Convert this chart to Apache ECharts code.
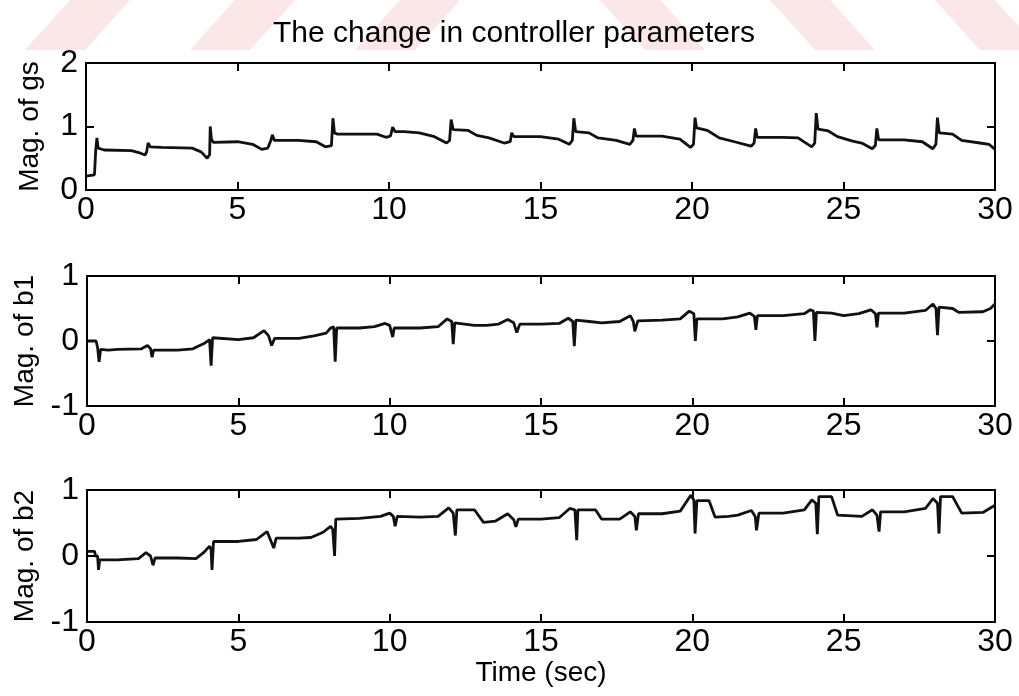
<!DOCTYPE html>
<html>
<head>
<meta charset="utf-8">
<script src="https://cdn.jsdelivr.net/npm/echarts@6/dist/echarts.min.js"></script>
<style>
  html, body { margin: 0; padding: 0; background: #fff; }
  #main { width: 1019px; height: 696px; }
</style>
</head>
<body>
<div id="main"></div>
<script>
// data: [time (sec), magnitude]
var gsPoints = [
  [0,0.22],[0.28,0.24],[0.32,0.62],[0.36,0.82],[0.4,0.66],[0.6,0.63],[1.5,0.62],[1.8,0.58],[1.95,0.55],
  [2.0,0.6],[2.05,0.74],[2.12,0.68],[2.5,0.67],[3.5,0.66],[3.8,0.6],[4.0,0.5],[4.08,0.56],[4.1,1.0],
  [4.14,0.8],[4.2,0.75],[5.0,0.76],[5.5,0.72],[5.8,0.64],[6.0,0.66],[6.1,0.78],[6.15,0.87],[6.22,0.78],
  [7.0,0.78],[7.6,0.76],[7.9,0.68],[8.1,0.7],[8.15,1.13],[8.2,0.9],[8.3,0.88],[9.6,0.88],[9.9,0.83],
  [10.05,0.85],[10.12,0.99],[10.2,0.92],[10.5,0.92],[11.0,0.9],[11.5,0.84],[11.9,0.74],[12.0,0.78],
  [12.05,1.11],[12.12,0.95],[12.6,0.94],[12.9,0.86],[13.3,0.82],[13.8,0.74],[14.0,0.76],[14.05,0.9],
  [14.12,0.84],[15.0,0.84],[15.6,0.8],[15.95,0.72],[16.05,0.78],[16.1,1.13],[16.16,0.92],[16.6,0.9],
  [16.9,0.82],[17.5,0.78],[17.95,0.72],[18.05,0.78],[18.1,0.97],[18.15,0.85],[19.0,0.85],[19.6,0.8],
  [19.95,0.67],[20.05,0.72],[20.1,1.14],[20.15,0.98],[20.5,0.94],[20.9,0.82],[21.4,0.76],[21.95,0.69],
  [22.05,0.74],[22.1,0.97],[22.15,0.83],[23.0,0.83],[23.5,0.82],[23.95,0.68],[24.05,0.74],[24.1,1.21],
  [24.16,0.96],[24.5,0.93],[24.8,0.84],[25.3,0.77],[25.6,0.74],[25.95,0.65],[26.05,0.7],[26.1,0.97],
  [26.16,0.79],[27.0,0.79],[27.6,0.76],[27.95,0.65],[28.05,0.72],[28.1,1.14],[28.16,0.9],[28.6,0.88],
  [28.9,0.78],[29.5,0.74],[29.8,0.72],[30,0.64]
];
var b1Points = [
  [0,0],[0.3,0.0],[0.35,-0.1],[0.4,-0.32],[0.45,-0.13],[0.7,-0.14],[1.0,-0.13],[1.8,-0.12],[2.0,-0.07],
  [2.1,-0.12],[2.15,-0.25],[2.2,-0.14],[3.0,-0.14],[3.5,-0.12],[3.9,-0.03],[4.05,0.02],[4.1,-0.38],
  [4.15,0.05],[4.2,0.02],[5.0,0.02],[5.5,0.05],[5.85,0.16],[6.0,0.08],[6.1,-0.07],[6.2,0.04],[7.0,0.04],
  [7.5,0.08],[7.9,0.12],[8.05,0.2],[8.15,0.22],[8.2,-0.32],[8.25,0.2],[9.0,0.2],[9.5,0.22],[9.85,0.27],
  [10.0,0.24],[10.1,0.06],[10.15,0.2],[11.0,0.2],[11.6,0.22],[11.9,0.34],[12.05,0.3],[12.1,-0.05],
  [12.15,0.28],[12.8,0.24],[13.2,0.24],[13.6,0.26],[13.9,0.33],[14.1,0.28],[14.2,0.13],[14.3,0.26],
  [15.0,0.26],[15.6,0.27],[15.9,0.35],[16.05,0.3],[16.1,-0.08],[16.15,0.32],[16.6,0.3],[17.0,0.28],
  [17.6,0.3],[17.95,0.39],[18.05,0.3],[18.1,0.15],[18.2,0.31],[19.0,0.32],[19.6,0.34],[19.9,0.46],
  [20.05,0.42],[20.1,0.0],[20.15,0.34],[21.0,0.34],[21.5,0.37],[21.9,0.43],[22.05,0.38],[22.1,0.17],
  [22.15,0.39],[23.0,0.39],[23.7,0.42],[23.9,0.48],[24.0,0.46],[24.05,0.0],[24.1,0.44],[24.6,0.43],
  [25.0,0.39],[25.5,0.42],[25.9,0.48],[26.05,0.42],[26.1,0.21],[26.15,0.43],[27.0,0.43],[27.7,0.47],
  [27.95,0.57],[28.05,0.5],[28.1,0.09],[28.15,0.52],[28.6,0.5],[28.8,0.44],[29.6,0.45],[29.85,0.5],[30,0.57]
];
var b2Points = [
  [0,0.07],[0.25,0.07],[0.28,0.0],[0.35,0.0],[0.38,-0.21],[0.42,-0.06],[1.0,-0.06],[1.7,-0.04],[1.95,0.05],
  [2.1,0.0],[2.18,-0.14],[2.25,-0.03],[3.0,-0.03],[3.6,-0.04],[3.85,0.05],[4.05,0.15],[4.1,0.1],[4.13,-0.21],
  [4.18,0.22],[5.0,0.22],[5.6,0.25],[5.95,0.37],[6.1,0.2],[6.17,0.12],[6.25,0.27],[7.0,0.27],[7.4,0.28],
  [7.8,0.36],[8.05,0.45],[8.12,0.4],[8.18,0.0],[8.22,0.56],[9.0,0.57],[9.7,0.6],[10.0,0.65],[10.12,0.6],
  [10.18,0.45],[10.25,0.6],[11.0,0.59],[11.6,0.6],[11.95,0.73],[12.1,0.65],[12.17,0.31],[12.22,0.7],
  [12.8,0.7],[13.1,0.51],[13.5,0.53],[13.9,0.64],[14.1,0.55],[14.17,0.44],[14.25,0.56],[15.0,0.56],
  [15.6,0.58],[15.95,0.72],[16.12,0.7],[16.18,0.24],[16.22,0.7],[16.8,0.7],[17.0,0.56],[17.6,0.56],
  [17.95,0.67],[18.1,0.6],[18.15,0.39],[18.22,0.64],[19.0,0.64],[19.6,0.68],[19.95,0.92],[20.05,0.85],
  [20.09,0.34],[20.15,0.84],[20.55,0.84],[20.75,0.59],[21.2,0.6],[21.5,0.62],[21.95,0.69],[22.08,0.6],
  [22.12,0.39],[22.2,0.65],[23.0,0.65],[23.7,0.7],[23.95,0.85],[24.08,0.8],[24.13,0.33],[24.18,0.9],
  [24.6,0.9],[24.8,0.62],[25.6,0.6],[25.95,0.7],[26.1,0.62],[26.17,0.37],[26.22,0.67],[27.0,0.67],
  [27.7,0.72],[27.95,0.87],[28.1,0.8],[28.15,0.34],[28.2,0.9],[28.6,0.9],[28.9,0.65],[29.6,0.66],[30,0.77]
];

var panelNames = ['Mag. of gs', 'Mag. of b1', 'Mag. of b2'];
var yRanges = [[0, 2], [-1, 1], [-1, 1]];
var xRange = [0, 30];
var xStep = 5;
var titleText = 'The change in controller parameters';
var xName = 'Time (sec)';

var FONT = 'Liberation Sans, Arial, sans-serif';
var TICK_FONT = 'Liberation Sans Narrow, Liberation Sans, Arial, sans-serif';
var INK = '#000';

var grids = [
  { left: 86, right: 24, top: 63, height: 127 },
  { left: 87, right: 24, top: 276, height: 130 },
  { left: 87, right: 24, top: 490, height: 132 }
];

var xAxes = [], yAxes = [], series = [];
var allPoints = [gsPoints, b1Points, b2Points];

grids.forEach(function (g, i) {
  var baseX = {
    gridIndex: i, type: 'value', min: xRange[0], max: xRange[1], interval: xStep,
    axisLine: { show: true, onZero: false, lineStyle: { color: INK, width: 2 } },
    axisTick: { show: true, inside: true, length: 8, lineStyle: { color: INK, width: 2 } },
    splitLine: { show: false }
  };
  xAxes.push(Object.assign({}, baseX, {
    position: 'bottom',
    axisLabel: { show: true, color: INK, fontSize: 32, fontFamily: TICK_FONT, margin: 4 },
    name: i === 2 ? xName : '',
    nameLocation: 'middle', nameGap: 32,
    nameTextStyle: { color: INK, fontSize: 28, fontFamily: FONT }
  }));
  xAxes.push(Object.assign({}, baseX, { position: 'top', axisLabel: { show: false } }));

  var baseY = {
    gridIndex: i, type: 'value', min: yRanges[i][0], max: yRanges[i][1], interval: 1,
    axisLine: { show: true, onZero: false, lineStyle: { color: INK, width: 2 } },
    axisTick: { show: true, inside: true, length: 8, lineStyle: { color: INK, width: 2 } },
    splitLine: { show: false }
  };
  yAxes.push(Object.assign({}, baseY, {
    position: 'left',
    axisLabel: { show: true, color: INK, fontSize: 32, fontFamily: TICK_FONT, margin: 8 },
    name: panelNames[i], nameLocation: 'middle', nameRotate: 90, nameGap: 42,
    nameTextStyle: { color: INK, fontSize: 28, fontFamily: FONT }
  }));
  yAxes.push(Object.assign({}, baseY, { position: 'right', axisLabel: { show: false } }));

  series.push({
    type: 'line',
    xAxisIndex: i * 2, yAxisIndex: i * 2,
    data: allPoints[i],
    showSymbol: false,
    lineStyle: { color: '#111', width: 2.8 },
    z: 3
  });
});

// faint pink diagonal stripes of the scanned page
var stripes = [];
[70, 235, 400].forEach(function (a) {
  stripes.push({ type: 'polygon', silent: true, z: -1,
    shape: { points: [[a, 0], [a + 60, 0], [a + 15, 50], [a - 45, 50]] },
    style: { fill: '#fbe7e7' } });
});
[600, 770, 935].forEach(function (b) {
  stripes.push({ type: 'polygon', silent: true, z: -1,
    shape: { points: [[b, 0], [b + 60, 0], [b + 105, 50], [b + 45, 50]] },
    style: { fill: '#fbe7e7' } });
});

var chart = echarts.init(document.getElementById('main'), null, { renderer: 'canvas' });
chart.setOption({
  animation: false,
  backgroundColor: '#fff',
  title: {
    text: titleText, left: 268, top: 14,
    textStyle: { color: INK, fontSize: 30, fontWeight: 'normal', fontFamily: TICK_FONT }
  },
  graphic: stripes,
  grid: grids,
  xAxis: xAxes,
  yAxis: yAxes,
  series: series
});
</script>
</body>
</html>
